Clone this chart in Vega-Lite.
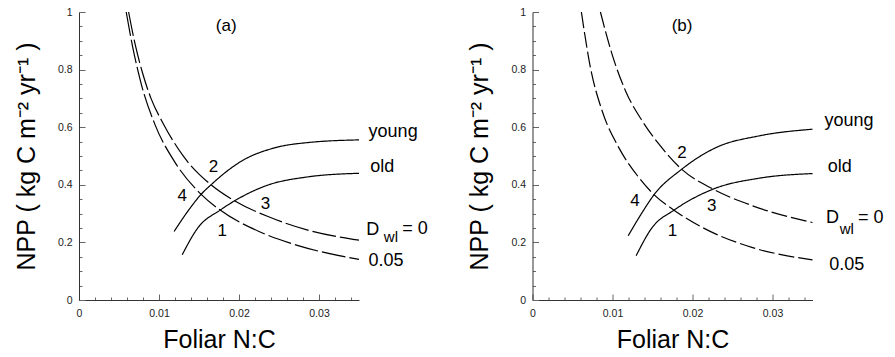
{
  "$schema": "https://vega.github.io/schema/vega-lite/v6.json",
  "background": "white",
  "padding": {"left": 14, "top": 7, "right": 5, "bottom": 5},
  "spacing": 173.5,
  "bounds": "flush",
  "config": {
    "view": {"stroke": null},
    "font": "Liberation Sans",
    "axis": {
      "grid": false,
      "labelFont": "Liberation Sans",
      "labelFontSize": 10.5,
      "labelColor": "#222",
      "titleFont": "Liberation Sans",
      "titleFontSize": 25,
      "titleFontWeight": "normal",
      "titleColor": "black",
      "domainColor": "#333",
      "domainWidth": 1,
      "tickColor": "#666",
      "tickWidth": 1,
      "labelOverlap": false,
      "labelFlush": false,
      "labelBound": false
    }
  },
  "datasets": {
    "curves": [
      {"panel": "a", "curve": "d0", "style": "dashA", "x": 0.0062, "y": 1.0},
      {"panel": "a", "curve": "d0", "style": "dashA", "x": 0.0070, "y": 0.890},
      {"panel": "a", "curve": "d0", "style": "dashA", "x": 0.0080, "y": 0.783},
      {"panel": "a", "curve": "d0", "style": "dashA", "x": 0.0090, "y": 0.700},
      {"panel": "a", "curve": "d0", "style": "dashA", "x": 0.0105, "y": 0.614},
      {"panel": "a", "curve": "d0", "style": "dashA", "x": 0.0130, "y": 0.501},
      {"panel": "a", "curve": "d0", "style": "dashA", "x": 0.0165, "y": 0.400},
      {"panel": "a", "curve": "d0", "style": "dashA", "x": 0.0194, "y": 0.345},
      {"panel": "a", "curve": "d0", "style": "dashA", "x": 0.0237, "y": 0.289},
      {"panel": "a", "curve": "d0", "style": "dashA", "x": 0.0287, "y": 0.242},
      {"panel": "a", "curve": "d0", "style": "dashA", "x": 0.0350, "y": 0.208},
      {"panel": "a", "curve": "d05", "style": "dashA", "x": 0.0059, "y": 1.0},
      {"panel": "a", "curve": "d05", "style": "dashA", "x": 0.0067, "y": 0.880},
      {"panel": "a", "curve": "d05", "style": "dashA", "x": 0.0078, "y": 0.748},
      {"panel": "a", "curve": "d05", "style": "dashA", "x": 0.0095, "y": 0.609},
      {"panel": "a", "curve": "d05", "style": "dashA", "x": 0.0120, "y": 0.478},
      {"panel": "a", "curve": "d05", "style": "dashA", "x": 0.0153, "y": 0.366},
      {"panel": "a", "curve": "d05", "style": "dashA", "x": 0.0176, "y": 0.313},
      {"panel": "a", "curve": "d05", "style": "dashA", "x": 0.0225, "y": 0.238},
      {"panel": "a", "curve": "d05", "style": "dashA", "x": 0.0275, "y": 0.188},
      {"panel": "a", "curve": "d05", "style": "dashA", "x": 0.0350, "y": 0.141},
      {"panel": "a", "curve": "young", "style": "solid", "x": 0.01189, "y": 0.238},
      {"panel": "a", "curve": "young", "style": "solid", "x": 0.01365, "y": 0.310},
      {"panel": "a", "curve": "young", "style": "solid", "x": 0.0153, "y": 0.368},
      {"panel": "a", "curve": "young", "style": "solid", "x": 0.0165, "y": 0.400},
      {"panel": "a", "curve": "young", "style": "solid", "x": 0.02036, "y": 0.483},
      {"panel": "a", "curve": "young", "style": "solid", "x": 0.02455, "y": 0.529},
      {"panel": "a", "curve": "young", "style": "solid", "x": 0.02874, "y": 0.547},
      {"panel": "a", "curve": "young", "style": "solid", "x": 0.0350, "y": 0.556},
      {"panel": "a", "curve": "old", "style": "solid", "x": 0.0129, "y": 0.157},
      {"panel": "a", "curve": "old", "style": "solid", "x": 0.0149, "y": 0.252},
      {"panel": "a", "curve": "old", "style": "solid", "x": 0.01764, "y": 0.312},
      {"panel": "a", "curve": "old", "style": "solid", "x": 0.01943, "y": 0.344},
      {"panel": "a", "curve": "old", "style": "solid", "x": 0.0233, "y": 0.396},
      {"panel": "a", "curve": "old", "style": "solid", "x": 0.02874, "y": 0.428},
      {"panel": "a", "curve": "old", "style": "solid", "x": 0.0350, "y": 0.440},
      {"panel": "b", "curve": "d0", "style": "dashB", "x": 0.00849, "y": 1.0},
      {"panel": "b", "curve": "d0", "style": "dashB", "x": 0.00995, "y": 0.853},
      {"panel": "b", "curve": "d0", "style": "dashB", "x": 0.01163, "y": 0.726},
      {"panel": "b", "curve": "d0", "style": "dashB", "x": 0.01371, "y": 0.622},
      {"panel": "b", "curve": "d0", "style": "dashB", "x": 0.01581, "y": 0.541},
      {"panel": "b", "curve": "d0", "style": "dashB", "x": 0.01865, "y": 0.454},
      {"panel": "b", "curve": "d0", "style": "dashB", "x": 0.02258, "y": 0.385},
      {"panel": "b", "curve": "d0", "style": "dashB", "x": 0.02752, "y": 0.327},
      {"panel": "b", "curve": "d0", "style": "dashB", "x": 0.0350, "y": 0.269},
      {"panel": "b", "curve": "d05", "style": "dashB", "x": 0.00611, "y": 1.0},
      {"panel": "b", "curve": "d05", "style": "dashB", "x": 0.00724, "y": 0.807},
      {"panel": "b", "curve": "d05", "style": "dashB", "x": 0.0087, "y": 0.657},
      {"panel": "b", "curve": "d05", "style": "dashB", "x": 0.01079, "y": 0.529},
      {"panel": "b", "curve": "d05", "style": "dashB", "x": 0.0133, "y": 0.425},
      {"panel": "b", "curve": "d05", "style": "dashB", "x": 0.01518, "y": 0.366},
      {"panel": "b", "curve": "d05", "style": "dashB", "x": 0.01769, "y": 0.312},
      {"panel": "b", "curve": "d05", "style": "dashB", "x": 0.02208, "y": 0.240},
      {"panel": "b", "curve": "d05", "style": "dashB", "x": 0.02752, "y": 0.182},
      {"panel": "b", "curve": "d05", "style": "dashB", "x": 0.0350, "y": 0.139},
      {"panel": "b", "curve": "young", "style": "solid", "x": 0.01196, "y": 0.223},
      {"panel": "b", "curve": "young", "style": "solid", "x": 0.01371, "y": 0.304},
      {"panel": "b", "curve": "young", "style": "solid", "x": 0.01518, "y": 0.365},
      {"panel": "b", "curve": "young", "style": "solid", "x": 0.01865, "y": 0.454},
      {"panel": "b", "curve": "young", "style": "solid", "x": 0.02292, "y": 0.529},
      {"panel": "b", "curve": "young", "style": "solid", "x": 0.02836, "y": 0.570},
      {"panel": "b", "curve": "young", "style": "solid", "x": 0.0350, "y": 0.593},
      {"panel": "b", "curve": "old", "style": "solid", "x": 0.01296, "y": 0.154},
      {"panel": "b", "curve": "old", "style": "solid", "x": 0.01497, "y": 0.252},
      {"panel": "b", "curve": "old", "style": "solid", "x": 0.01769, "y": 0.312},
      {"panel": "b", "curve": "old", "style": "solid", "x": 0.02258, "y": 0.385},
      {"panel": "b", "curve": "old", "style": "solid", "x": 0.02836, "y": 0.423},
      {"panel": "b", "curve": "old", "style": "solid", "x": 0.0350, "y": 0.439}
    ],
    "labels": [
      {"panel": "a", "kind": "num", "text": "(a)", "x": 0.0184, "y": 0.951},
      {"panel": "a", "kind": "num", "text": "2", "x": 0.0168, "y": 0.463},
      {"panel": "a", "kind": "num", "text": "4", "x": 0.0129, "y": 0.362},
      {"panel": "a", "kind": "num", "text": "3", "x": 0.0233, "y": 0.335},
      {"panel": "a", "kind": "num", "text": "1", "x": 0.0179, "y": 0.240},
      {"panel": "a", "kind": "curve", "text": "young", "x": 0.0362, "y": 0.584},
      {"panel": "a", "kind": "curve", "text": "old", "x": 0.0364, "y": 0.463},
      {"panel": "a", "kind": "curve", "text": "D", "x": 0.0359, "y": 0.242},
      {"panel": "a", "kind": "sub", "text": "wl", "x": 0.0381, "y": 0.218},
      {"panel": "a", "kind": "curve", "text": "= 0", "x": 0.0404, "y": 0.246},
      {"panel": "a", "kind": "curve", "text": "0.05", "x": 0.0362, "y": 0.136},
      {"panel": "b", "kind": "num", "text": "(b)", "x": 0.0187, "y": 0.951},
      {"panel": "b", "kind": "num", "text": "2", "x": 0.0187, "y": 0.512},
      {"panel": "b", "kind": "num", "text": "4", "x": 0.0128, "y": 0.344},
      {"panel": "b", "kind": "num", "text": "3", "x": 0.0224, "y": 0.327},
      {"panel": "b", "kind": "num", "text": "1", "x": 0.0175, "y": 0.240},
      {"panel": "b", "kind": "curve", "text": "young", "x": 0.0365, "y": 0.622},
      {"panel": "b", "kind": "curve", "text": "old", "x": 0.0369, "y": 0.463},
      {"panel": "b", "kind": "curve", "text": "D", "x": 0.0367, "y": 0.283},
      {"panel": "b", "kind": "sub", "text": "wl", "x": 0.0384, "y": 0.246},
      {"panel": "b", "kind": "curve", "text": "= 0", "x": 0.0407, "y": 0.285},
      {"panel": "b", "kind": "curve", "text": "0.05", "x": 0.0371, "y": 0.121}
    ]
  },
  "hconcat": [
    {
      "width": 280,
      "height": 288,
      "encoding": {
        "x": {
          "field": "x", "type": "quantitative", "title": "Foliar N:C",
          "scale": {"domain": [0, 0.035], "nice": false},
          "axis": {
            "values": [0, 0.002, 0.004, 0.006, 0.008, 0.01, 0.012, 0.014, 0.016, 0.018, 0.02, 0.022, 0.024, 0.026, 0.028, 0.03, 0.032, 0.034],
            "labelExpr": "abs(datum.value*100 - round(datum.value*100)) < 1e-6 ? format(datum.value, '.2~f') : ''",
            "tickSize": {"condition": {"test": "abs(datum.value*100 - round(datum.value*100)) < 1e-6", "value": -6}, "value": -3},
            "labelPadding": 14,
            "titlePadding": 6
          }
        },
        "y": {
          "field": "y", "type": "quantitative", "title": "NPP ( kg C m⁻² yr⁻¹ )",
          "scale": {"domain": [0, 1], "nice": false},
          "axis": {
            "values": [0, 0.05, 0.1, 0.15, 0.2, 0.25, 0.3, 0.35, 0.4, 0.45, 0.5, 0.55, 0.6, 0.65, 0.7, 0.75, 0.8, 0.85, 0.9, 0.95, 1],
            "labelExpr": "abs(datum.value*5 - round(datum.value*5)) < 1e-6 ? format(datum.value, '.1~f') : ''",
            "tickSize": {"condition": {"test": "abs(datum.value*5 - round(datum.value*5)) < 1e-6", "value": -6}, "value": -3},
            "labelPadding": 13,
            "titlePadding": 18
          }
        }
      },
      "layer": [
        {
          "data": {"name": "curves"},
          "transform": [{"filter": "datum.panel == 'a'"}],
          "mark": {"type": "line", "interpolate": "monotone", "color": "black", "strokeWidth": 1.2},
          "encoding": {
            "detail": {"field": "curve", "type": "nominal"},
            "strokeDash": {"field": "style", "type": "nominal", "scale": {"domain": ["solid", "dashA", "dashB"], "range": [[1, 0], [24, 4], [16, 4]]}, "legend": null}
          }
        },
        {
          "data": {"name": "labels"},
          "transform": [{"filter": "datum.panel == 'a' && datum.kind == 'num'"}],
          "mark": {"type": "text", "align": "center", "baseline": "middle", "fontSize": 17, "color": "black"},
          "encoding": {"text": {"field": "text"}}
        },
        {
          "data": {"name": "labels"},
          "transform": [{"filter": "datum.panel == 'a' && datum.kind == 'curve'"}],
          "mark": {"type": "text", "align": "left", "baseline": "middle", "fontSize": 18, "color": "black"},
          "encoding": {"text": {"field": "text"}}
        },
        {
          "data": {"name": "labels"},
          "transform": [{"filter": "datum.panel == 'a' && datum.kind == 'sub'"}],
          "mark": {"type": "text", "align": "left", "baseline": "middle", "fontSize": 15, "color": "black"},
          "encoding": {"text": {"field": "text"}}
        }
      ]
    },
    {
      "width": 280,
      "height": 288,
      "encoding": {
        "x": {
          "field": "x", "type": "quantitative", "title": "Foliar N:C",
          "scale": {"domain": [0, 0.035], "nice": false},
          "axis": {
            "values": [0, 0.002, 0.004, 0.006, 0.008, 0.01, 0.012, 0.014, 0.016, 0.018, 0.02, 0.022, 0.024, 0.026, 0.028, 0.03, 0.032, 0.034],
            "labelExpr": "abs(datum.value*100 - round(datum.value*100)) < 1e-6 ? format(datum.value, '.2~f') : ''",
            "tickSize": {"condition": {"test": "abs(datum.value*100 - round(datum.value*100)) < 1e-6", "value": -6}, "value": -3},
            "labelPadding": 14,
            "titlePadding": 6
          }
        },
        "y": {
          "field": "y", "type": "quantitative", "title": "NPP ( kg C m⁻² yr⁻¹ )",
          "scale": {"domain": [0, 1], "nice": false},
          "axis": {
            "values": [0, 0.05, 0.1, 0.15, 0.2, 0.25, 0.3, 0.35, 0.4, 0.45, 0.5, 0.55, 0.6, 0.65, 0.7, 0.75, 0.8, 0.85, 0.9, 0.95, 1],
            "labelExpr": "abs(datum.value*5 - round(datum.value*5)) < 1e-6 ? format(datum.value, '.1~f') : ''",
            "tickSize": {"condition": {"test": "abs(datum.value*5 - round(datum.value*5)) < 1e-6", "value": -6}, "value": -3},
            "labelPadding": 13,
            "titlePadding": 18
          }
        }
      },
      "layer": [
        {
          "data": {"name": "curves"},
          "transform": [{"filter": "datum.panel == 'b'"}],
          "mark": {"type": "line", "interpolate": "monotone", "color": "black", "strokeWidth": 1.2},
          "encoding": {
            "detail": {"field": "curve", "type": "nominal"},
            "strokeDash": {"field": "style", "type": "nominal", "scale": {"domain": ["solid", "dashA", "dashB"], "range": [[1, 0], [24, 4], [16, 4]]}, "legend": null}
          }
        },
        {
          "data": {"name": "labels"},
          "transform": [{"filter": "datum.panel == 'b' && datum.kind == 'num'"}],
          "mark": {"type": "text", "align": "center", "baseline": "middle", "fontSize": 17, "color": "black"},
          "encoding": {"text": {"field": "text"}}
        },
        {
          "data": {"name": "labels"},
          "transform": [{"filter": "datum.panel == 'b' && datum.kind == 'curve'"}],
          "mark": {"type": "text", "align": "left", "baseline": "middle", "fontSize": 18, "color": "black"},
          "encoding": {"text": {"field": "text"}}
        },
        {
          "data": {"name": "labels"},
          "transform": [{"filter": "datum.panel == 'b' && datum.kind == 'sub'"}],
          "mark": {"type": "text", "align": "left", "baseline": "middle", "fontSize": 15, "color": "black"},
          "encoding": {"text": {"field": "text"}}
        }
      ]
    }
  ]
}
